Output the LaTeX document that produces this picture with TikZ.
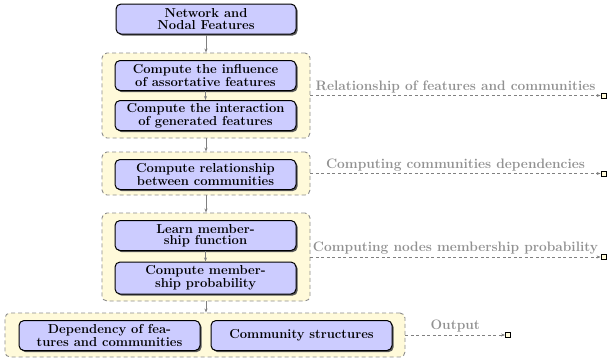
\documentclass[tikz,border=0pt]{standalone}
\usetikzlibrary{shadows,arrows.meta}
\definecolor{boxblue}{RGB}{204,204,255}
\definecolor{grpfill}{RGB}{255,250,218}
\definecolor{lblgray}{RGB}{145,145,145}
\tikzset{
  every node/.style={font=\fontsize{13}{11.5}\selectfont\bfseries},
  proc/.style={draw=black, line width=1pt, fill=boxblue, rounded corners=5pt,
    minimum width=181pt, minimum height=30pt, inner sep=1pt, align=center,
    drop shadow={shadow xshift=1.6pt, shadow yshift=-1.6pt, fill=black!65, opacity=1}},
  grp/.style={draw=gray!90, dashed, dash pattern=on 4pt off 3pt, line width=0.9pt,
    fill=grpfill, rounded corners=5pt, inner sep=0pt},
  flow/.style={draw=gray, line width=0.8pt, -{Stealth[length=4pt,width=3pt]}},
  side/.style={draw=gray, line width=0.8pt, dashed, dash pattern=on 3pt off 2.5pt,
    -{Stealth[length=4pt,width=3pt]}},
  endsq/.style={draw=black, line width=0.8pt, fill=grpfill, minimum size=5pt, inner sep=0pt},
  lbl/.style={text=lblgray, above, midway, inner sep=2pt, font=\fontsize{13.7}{13}\selectfont\bfseries}
}
\begin{document}
\begin{tikzpicture}[x=1pt,y=-1pt]
\useasboundingbox (0,0) rectangle (608,360);
% groups
\node[grp, minimum width=208pt, minimum height=85pt] (g1) at (206,95.5) {};
\node[grp, minimum width=208pt, minimum height=43pt] (g2) at (206,173.5) {};
\node[grp, minimum width=208pt, minimum height=88pt] (g3) at (206,257) {};
\node[grp, minimum width=400pt, minimum height=44pt] (g4) at (205,335) {};
% nodes
\node[proc, minimum width=180pt] (top) at (206,19) {Network and\\Nodal Features};
\node[proc] (n1a) at (205.5,75.5) {Compute the influence\\of assortative features};
\node[proc] (n1b) at (205.5,115.5) {Compute the interaction\\of generated features};
\node[proc] (n2) at (205.5,174.5) {Compute relationship\\between communities};
\node[proc] (n3a) at (205.5,235.5) {Learn member-\\ship function};
\node[proc, minimum height=32pt] (n3b) at (205.5,278) {Compute member-\\ship probability};
\node[proc] (n4a) at (109.5,335.5) {Dependency of fea-\\tures and communities};
\node[proc] (n4b) at (301.5,335.5) {Community structures};
% vertical flow
\draw[flow] (top.south) -- (top.south |- g1.north);
\draw[flow] (n1a.south) -- (n1b.north);
\draw[flow] (g1.south -| top.south) -- (top.south |- g2.north);
\draw[flow] (g2.south -| top.south) -- (top.south |- g3.north);
\draw[flow] (n3a.south) -- (n3b.north);
\draw[flow] (g3.south -| top.south) -- (top.south |- g4.north);
% end squares
\node[endsq] (e1) at (603.5,95.5) {};
\node[endsq] (e2) at (603.5,173.5) {};
\node[endsq] (e3) at (603.5,257) {};
\node[endsq] (e4) at (508,335) {};
% side arrows
\draw[side] (g1.east) -- (e1.west) node[lbl] {Relationship of features and communities};
\draw[side] (g2.east) -- (e2.west) node[lbl] {Computing communities dependencies};
\draw[side] (g3.east) -- (e3.west) node[lbl] {Computing nodes membership probability};
\draw[side] (g4.east) -- (e4.west) node[lbl] {Output};
\end{tikzpicture}
\end{document}
